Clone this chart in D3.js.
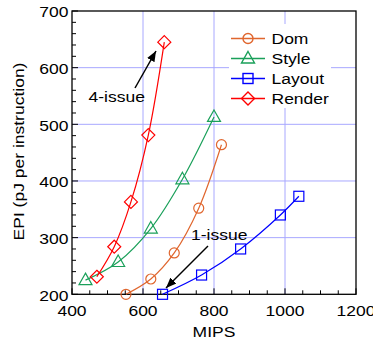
<!DOCTYPE html>
<html><head><meta charset="utf-8">
<script src="https://cdn.jsdelivr.net/npm/d3@7"></script>
<style>body{margin:0;background:#fff}svg{display:block}text{font-family:"Liberation Sans",Arial,sans-serif}</style>
</head><body><svg id="c" width="373" height="346"></svg>
<script>
const seriesNames = ["Dom","Style","Layout","Render"];
const domMips = [552,622,688,757,821];
const domEpi = [200,227,273,352,464];
const styleMips = [438,530,622,711,800];
const styleEpi = [225,257,316,403,513];
const layoutMips = [655,765,875,987,1039];
const layoutEpi = [200,234,280,340,373];
const renderMips = [470,519,566,615,660];
const renderEpi = [231,284,363,481,645];
const xTicks = [400,600,800,1000,1200];
const yTicks = [200,300,400,500,600,700];
const colors = {Dom:"#e0662e",Style:"#1aa05a",Layout:"#0000ff",Render:"#ff0000"};
const symbols = {Dom:"circle",Style:"triangle",Layout:"square",Render:"diamond"};
const data = {
  Dom: domMips.map((m,i)=>[m,domEpi[i]]),
  Style: styleMips.map((m,i)=>[m,styleEpi[i]]),
  Layout: layoutMips.map((m,i)=>[m,layoutEpi[i]]),
  Render: renderMips.map((m,i)=>[m,renderEpi[i]])
};

const svg = d3.select("#c");
const L=72,R=356,T=11,B=294.3;
const FS=15.5, SX=1.13;
const x = d3.scaleLinear().domain([400,1200]).range([L,R]);
const y = d3.scaleLinear().domain([200,700]).range([B,T]);

function txt(px,py,str,anchor,rot){
  return svg.append("text")
    .attr("transform",`translate(${px},${py})${rot?` rotate(${rot})`:""} scale(${SX},1)`)
    .attr("text-anchor",anchor||"start").attr("font-size",FS).attr("fill","#000").text(str);
}

// grid
const grid = svg.append("g");
grid.selectAll(".gx").data(xTicks.slice(1,-1)).join("line")
  .attr("x1",d=>x(d)).attr("x2",d=>x(d)).attr("y1",T).attr("y2",B)
  .attr("stroke","#a8a8ff").attr("stroke-width",1);
grid.selectAll(".gy").data(yTicks.slice(1,-1)).join("line")
  .attr("x1",L).attr("x2",R).attr("y1",d=>y(d)).attr("y2",d=>y(d))
  .attr("stroke","#a8a8ff").attr("stroke-width",1);

// legend background
svg.append("rect").attr("x",229).attr("y",24).attr("width",102).attr("height",84).attr("fill","#fff");

// axes frame
svg.append("rect").attr("x",L).attr("y",T).attr("width",R-L).attr("height",B-T)
  .attr("fill","none").attr("stroke","#000").attr("stroke-width",1.3);

// ticks
const ax = svg.append("g");
ax.selectAll(".tx").data(d3.range(400,1201,50)).join("line")
  .attr("x1",d=>x(d)).attr("x2",d=>x(d)).attr("y1",B).attr("y2",d=>B-(d%200===0?6:4))
  .attr("stroke","#000").attr("stroke-width",1);
ax.selectAll(".ty").data(d3.range(200,701,20)).join("line")
  .attr("y1",d=>y(d)).attr("y2",d=>y(d)).attr("x1",L).attr("x2",d=>L+(d%100===0?6:4))
  .attr("stroke","#000").attr("stroke-width",1);

xTicks.forEach(d=>txt(x(d),315.5,d,"middle"));
yTicks.forEach(d=>txt(68.5,y(d)+6.3,d,"end"));

txt(214,336.5,"MIPS","middle");
txt(24,151.5,"EPI (pJ per instruction)","middle",-90);

// lines & markers
const line = d3.line().x(d=>x(d[0])).y(d=>y(d[1])).curve(d3.curveCatmullRom.alpha(0.5));
function marker(g,type,cx,cy){
  if(type==="circle") g.append("circle").attr("cx",cx).attr("cy",cy).attr("r",5);
  else if(type==="square") g.append("rect").attr("x",cx-5).attr("y",cy-5).attr("width",10).attr("height",10);
  else if(type==="triangle") g.append("path").attr("d",`M${cx},${cy-7}L${cx+6.5},${cy+4.5}L${cx-6.5},${cy+4.5}Z`);
  else if(type==="diamond") g.append("path").attr("d",`M${cx},${cy-6.5}L${cx+6.5},${cy}L${cx},${cy+6.5}L${cx-6.5},${cy}Z`);
}
const plot = svg.append("g");
seriesNames.forEach(s=>{
  const g = plot.append("g").attr("stroke",colors[s]).attr("fill","none").attr("stroke-width",1.2);
  g.append("path").attr("d",line(data[s]));
  data[s].forEach(p=>marker(g,symbols[s],x(p[0]),y(p[1])));
});

// legend
const legY = [38.5,58.5,78.5,98.5];
seriesNames.forEach((s,i)=>{
  const g = svg.append("g").attr("stroke",colors[s]).attr("fill","none").attr("stroke-width",1.4);
  g.append("line").attr("x1",231).attr("x2",265).attr("y1",legY[i]).attr("y2",legY[i]);
  marker(g,symbols[s],248,legY[i]);
  txt(271.5,legY[i]+5.7,s,"start");
});

// annotations
svg.append("defs").append("marker").attr("id","ah").attr("viewBox","0 0 10 10").attr("refX",10).attr("refY",5)
  .attr("markerWidth",7).attr("markerHeight",7).attr("orient","auto")
  .append("path").attr("d","M0,1L10,5L0,9Z").attr("fill","#000");
svg.append("line").attr("x1",135).attr("y1",88).attr("x2",156).attr("y2",51)
  .attr("stroke","#000").attr("stroke-width",1.5).attr("marker-end","url(#ah)");
txt(88.5,101.7,"4-issue","start");
svg.append("line").attr("x1",208).attr("y1",246).attr("x2",166).attr("y2",288)
  .attr("stroke","#000").attr("stroke-width",1.5).attr("marker-end","url(#ah)");
txt(191,240,"1-issue","start");
</script></body></html>
